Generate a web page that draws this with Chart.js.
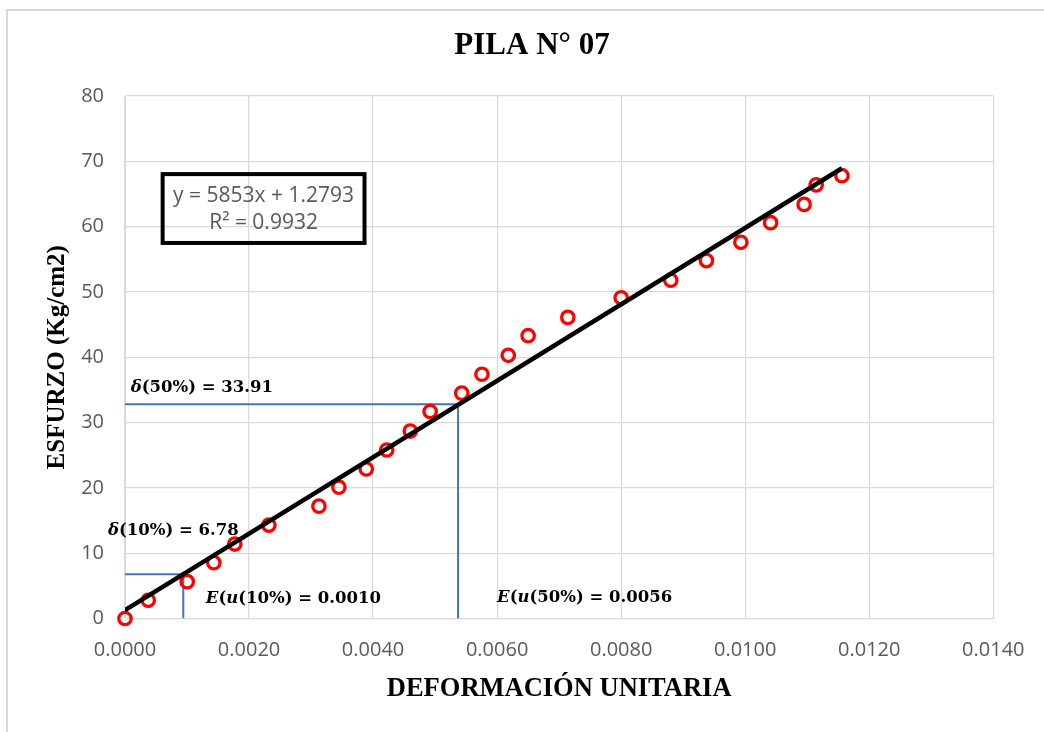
<!DOCTYPE html>
<html><head><meta charset="utf-8">
<script src="https://cdn.jsdelivr.net/npm/chart.js@4/dist/chart.umd.min.js"></script>
<style>html,body{margin:0;padding:0;background:#fff}#wrap{width:1044px;height:732px;position:relative}</style>
</head><body><div id="wrap"><canvas id="c" width="1044" height="732"></canvas></div>
<script>
// ---- data ----
const strain = [0, 0.000375, 0.001003, 0.001432, 0.00177, 0.00232, 0.003127, 0.003449, 0.00389, 0.00422, 0.0046, 0.00492, 0.00543, 0.005755, 0.00618, 0.0065, 0.00714, 0.0080, 0.0088, 0.009375, 0.00993, 0.01041, 0.01095, 0.011145, 0.01156];
const stress = [0, 2.79, 5.64, 8.55, 11.4, 14.3, 17.2, 20.1, 22.9, 25.8, 28.7, 31.7, 34.5, 37.4, 40.3, 43.3, 46.1, 49.1, 51.8, 54.8, 57.6, 60.6, 63.4, 66.4, 67.8];
const trendX = [0, 0.01156];
const trendY = [1.2793, 68.94];
const ref10X = [0, 0.00094, 0.00094];
const ref10Y = [6.78, 6.78, 0];
const ref50X = [0, 0.00537, 0.00537];
const ref50Y = [32.8, 32.8, 0];
const xTicks = [0, 0.002, 0.004, 0.006, 0.008, 0.010, 0.012, 0.014];
const yTicks = [0, 10, 20, 30, 40, 50, 60, 70, 80];
const chartTitle = 'PILA N° 07';
const xTitle = 'DEFORMACIÓN UNITARIA';
const yTitle = 'ESFURZO (Kg/cm2)';
const eqLines = ['y = 5853x + 1.2793', 'R² = 0.9932'];

const pts = (xs, ys) => xs.map((v, i) => ({x: v, y: ys[i]}));

// annotation placement (data units)
const eqBox = {x0: 0.000607, x1: 0.003862, y0: 57.5, y1: 68.04, cx: 0.002234, ly: [64.67, 60.6]};
const refLabels = [
  {x: 0.0000917, y: 35.28, parts: [['δ', 1], ['(50%) = 33.91', 0]]},
  {x: -0.000274, y: 13.39, parts: [['δ', 1], ['(10%) = 6.78', 0]]},
  {x: 0.001303, y: 2.98, parts: [['E', 1], ['(', 0], ['u', 1], ['(10%) = 0.0010', 0]]},
  {x: 0.006, y: 3.14, parts: [['E', 1], ['(', 0], ['u', 1], ['(50%) = 0.0056', 0]]}
];

const annot = {
  id: 'annot',
  beforeDraw(chart) {
    const ctx = chart.ctx;
    ctx.save();
    ctx.fillStyle = '#fff';
    ctx.fillRect(0, 0, chart.width, chart.height);
    ctx.strokeStyle = '#d9d9d9';
    ctx.lineWidth = 2;
    ctx.beginPath();
    ctx.moveTo(7, chart.height);
    ctx.lineTo(7, 10);
    ctx.lineTo(chart.width, 10);
    ctx.stroke();
    // chart title
    ctx.fillStyle = '#000';
    ctx.font = 'bold 31px "Liberation Serif"';
    ctx.textAlign = 'center';
    ctx.textBaseline = 'middle';
    ctx.fillText(chartTitle, 532, 46);
    ctx.restore();
  },
  afterDatasetsDraw(chart) {
    const ctx = chart.ctx, xs = chart.scales.x, ys = chart.scales.y;
    ctx.save();
    // equation box
    const bx0 = xs.getPixelForValue(eqBox.x0), bx1 = xs.getPixelForValue(eqBox.x1);
    const by0 = ys.getPixelForValue(eqBox.y1), by1 = ys.getPixelForValue(eqBox.y0);
    ctx.strokeStyle = '#000';
    ctx.lineWidth = 4;
    ctx.strokeRect(bx0, by0, bx1 - bx0, by1 - by0);
    ctx.fillStyle = '#595959';
    ctx.font = '21px "Open Sans"';
    ctx.textAlign = 'center';
    ctx.textBaseline = 'middle';
    eqLines.forEach((t, i) => ctx.fillText(t, xs.getPixelForValue(eqBox.cx), ys.getPixelForValue(eqBox.ly[i])));
    // reference labels
    ctx.fillStyle = '#000';
    ctx.textAlign = 'left';
    refLabels.forEach(l => {
      let px = xs.getPixelForValue(l.x);
      const py = ys.getPixelForValue(l.y);
      l.parts.forEach(([t, it]) => {
        ctx.font = (it ? 'italic ' : '') + 'bold 16.5px "DejaVu Serif"';
        ctx.fillText(t, px, py);
        px += ctx.measureText(t).width;
      });
    });
    ctx.restore();
  }
};

new Chart(document.getElementById('c'), {
  type: 'scatter',
  data: {
    datasets: [
      {label: 'trend', data: pts(trendX, trendY), showLine: true, borderColor: '#000', borderWidth: 4.5, pointRadius: 0, order: 0},
      {label: 'data', data: pts(strain, stress), pointStyle: 'circle', pointRadius: 6.2, borderWidth: 3.3, borderColor: '#ff0000', backgroundColor: 'rgba(0,0,0,0)', order: 1, clip: false},
      {label: 'ref10', data: pts(ref10X, ref10Y), showLine: true, borderColor: '#4472C4', borderWidth: 2, pointRadius: 0, order: 2},
      {label: 'ref50', data: pts(ref50X, ref50Y), showLine: true, borderColor: '#4472C4', borderWidth: 2, pointRadius: 0, order: 2}
    ]
  },
  options: {
    responsive: false,
    animation: false,
    devicePixelRatio: 1,
    layout: {padding: {left: 0, right: 49, top: 96, bottom: 0}},
    plugins: {
      legend: {display: false},
      tooltip: {enabled: false},
      title: {display: false}
    },
    scales: {
      x: {
        type: 'linear', min: 0, max: 0.014,
        afterBuildTicks: s => { s.ticks = xTicks.map(v => ({value: v})); },
        afterFit: s => { s.height = 113.5; },
        ticks: {color: '#595959', font: {family: '"Open Sans"', size: 20}, padding: 19.5, callback: v => Number(v).toFixed(4)},
        grid: {color: '#d9d9d9', lineWidth: 1.2, drawTicks: false},
        border: {color: '#d9d9d9'},
        title: {display: true, text: xTitle, color: '#000', font: {family: '"Liberation Serif"', size: 26.5, weight: 'bold'}, padding: {top: 0, bottom: 27.2}}
      },
      y: {
        type: 'linear', min: 0, max: 80,
        afterBuildTicks: s => { s.ticks = yTicks.map(v => ({value: v})); },
        afterFit: s => { s.width = 125; },
        ticks: {color: '#595959', font: {family: '"Open Sans"', size: 20}, padding: 21},
        grid: {color: '#d9d9d9', lineWidth: 1.2, drawTicks: false},
        border: {color: '#d9d9d9'},
        title: {display: true, text: yTitle, color: '#000', font: {family: '"Liberation Serif"', size: 25, weight: 'bold'}, padding: {top: 43, bottom: 0}}
      }
    }
  },
  plugins: [annot]
});
</script></body></html>
